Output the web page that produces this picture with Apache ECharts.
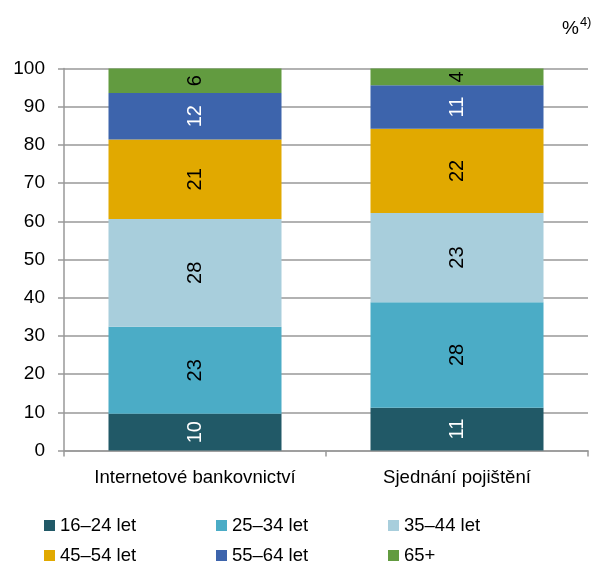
<!DOCTYPE html>
<html><head><meta charset="utf-8">
<script src="https://cdn.jsdelivr.net/npm/echarts@6/dist/echarts.min.js"></script>
<style>html,body{margin:0;padding:0;background:#fff}#c{width:594px;height:565px}</style>
</head><body><div id="c"></div>
<script>
const categories = ['Internetové bankovnictví', 'Sjednání pojištění'];
const seriesNames = ['16–24 let', '25–34 let', '35–44 let', '45–54 let', '55–64 let', '65+'];
const s1624 = [9.6, 11.2];
const s2534 = [22.8, 27.6];
const s3544 = [28.2, 23.4];
const s4554 = [20.8, 22.0];
const s5564 = [12.2, 11.4];
const s65 = [6.4, 4.4];
const yTicks = [0, 10, 20, 30, 40, 50, 60, 70, 80, 90, 100];

const values = [s1624, s2534, s3544, s4554, s5564, s65];
const colors = ['#215967', '#4BACC6', '#A8CEDC', '#E1A900', '#3D64AC', '#629B40'];
const labelColors = ['#fff', '#000', '#000', '#000', '#fff', '#000'];
const FONT = 'Arial, "Liberation Sans", sans-serif';

const chart = echarts.init(document.getElementById('c'), null, {renderer: 'canvas'});
const series = seriesNames.map((n, i) => ({
  name: n, type: 'bar', stack: 'total', data: values[i], barWidth: 173,
  itemStyle: {color: colors[i]},
  label: {show: true, position: 'inside', rotate: 90, color: labelColors[i],
    fontFamily: FONT, fontSize: 20, formatter: p => Math.round(p.value)}
}));
const legendPos = [[44, 516], [216, 516], [388, 516], [44, 546], [216, 546], [388, 546]];
const legends = seriesNames.map((n, i) => ({
  left: legendPos[i][0], top: legendPos[i][1], padding: 0,
  itemWidth: 11, itemHeight: 11, icon: 'rect', data: [n],
  textStyle: {fontFamily: FONT, fontSize: 18.5, color: '#000'}
}));
chart.setOption({
  animation: false,
  textStyle: {fontFamily: FONT},
  grid: {left: 64, right: 6, top: 68.5, bottom: 114.5},
  xAxis: {type: 'category', data: categories,
    axisLine: {lineStyle: {color: '#999', width: 1.5}},
    axisTick: {show: true, length: 6, lineStyle: {color: '#999', width: 1.5}},
    axisLabel: {color: '#000', fontSize: 18.6, margin: 18, interval: 0, hideOverlap: false, fontFamily: FONT}},
  yAxis: {type: 'value', min: yTicks[0], max: yTicks[yTicks.length - 1], interval: 10,
    axisLine: {show: true, lineStyle: {color: '#999', width: 1.5}},
    axisTick: {show: true, length: 6, lineStyle: {color: '#999', width: 1.5}},
    splitLine: {lineStyle: {color: '#999', width: 1.5}},
    axisLabel: {color: '#000', fontSize: 19, margin: 19, fontFamily: FONT}},
  legend: legends,
  graphic: [{type: 'text', left: 562, top: 16,
    style: {text: '{a|%}{b|4)}', rich: {
      a: {fontSize: 19, fontFamily: FONT, fill: '#000', verticalAlign: 'bottom', lineHeight: 22},
      b: {fontSize: 13, fontFamily: FONT, fill: '#000', verticalAlign: 'top', lineHeight: 22, padding: [0, 0, 5, 1]}
    }}}],
  series: series
});
</script></body></html>
